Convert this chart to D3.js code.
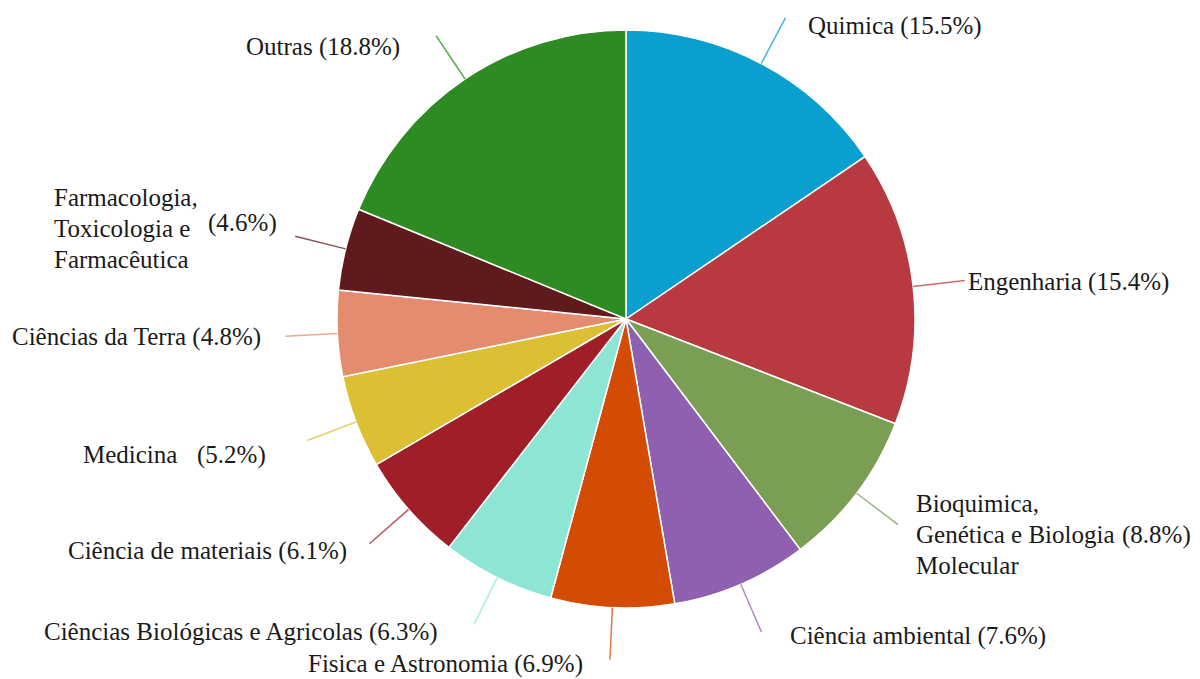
<!DOCTYPE html>
<html>
<head>
<meta charset="utf-8">
<script src="https://cdn.jsdelivr.net/npm/d3@7"></script>
<style>
  html, body { margin: 0; padding: 0; background: #fff; }
</style>
</head>
<body>
<svg id="pie" width="1200" height="679"></svg>
<script>
const width = 1200;
const height = 679;

// data, clockwise from 12 o'clock
const categories = [
    "Quimica", "Engenharia", "Bioquimica, Genética e Biologia Molecular",
    "Ciência ambiental", "Fisica e Astronomia", "Ciências Biológicas e Agricolas",
    "Ciência de materiais", "Medicina", "Ciências da Terra",
    "Farmacologia, Toxicologia e Farmacêutica", "Outras"
];
const shares = [15.5, 15.4, 8.8, 7.6, 6.9, 6.3, 6.1, 5.2, 4.8, 4.6, 18.8];
const colors = [
    "#0a9fcf", "#b83a40", "#7b9e55", "#9060b0", "#d44c04", "#8de6d4",
    "#a01e28", "#dbc034", "#e38c6f", "#5e1a1c", "#2e8a22"
];

// label text lines (percent is added from shares)
const labelLines = [
    ["Quimica"], ["Engenharia"], ["Bioquimica,", "Genética e Biologia", "Molecular"],
    ["Ciência ambiental"], ["Fisica e Astronomia"], ["Ciências Biológicas e Agricolas"],
    ["Ciência de materiais"], ["Medicina"], ["Ciências da Terra"],
    ["Farmacologia,", "Toxicologia e", "Farmacêutica"], ["Outras"]
];

// label placement (layout only)
const labelLayout = [
    { x: 808, y: 34 },
    { x: 968, y: 290 },
    { x: 916, y: 512, lh: 31, px: 1122, py: 543 },
    { x: 790, y: 644 },
    { x: 308, y: 672 },
    { x: 44, y: 640 },
    { x: 68, y: 559 },
    { x: 83, y: 463, px: 197, py: 463 },
    { x: 12, y: 345 },
    { x: 54, y: 206, lh: 31, px: 208, py: 231 },
    { x: 246, y: 55 }
];

const cx = 626, cy = 319, radius = 289;
const fontFamily = "'Liberation Serif', 'Times New Roman', Times, 'DejaVu Serif', serif";

const svg = d3.select("#pie");
const g = svg.append("g").attr("transform", `translate(${cx},${cy})`);

const pie = d3.pie().sort(null).value(d => d.value);
const arcs = pie(categories.map((c, i) => ({ name: c, value: shares[i], i })));

const arc = d3.arc().innerRadius(0).outerRadius(radius);

g.selectAll("path.slice")
    .data(arcs)
    .enter()
    .append("path")
    .attr("class", "slice")
    .attr("d", arc)
    .attr("fill", d => colors[d.data.i])
    .attr("stroke", "#fff")
    .attr("stroke-width", 1.5);

// leader lines from the rim outwards along the slice mid angle
const rimArc = d3.arc().innerRadius(radius).outerRadius(radius);
const outArc = d3.arc().innerRadius(radius * 1.18).outerRadius(radius * 1.18);

g.selectAll("line.leader")
    .data(arcs)
    .enter()
    .append("line")
    .attr("class", "leader")
    .attr("x1", d => rimArc.centroid(d)[0])
    .attr("y1", d => rimArc.centroid(d)[1])
    .attr("x2", d => outArc.centroid(d)[0])
    .attr("y2", d => outArc.centroid(d)[1])
    .attr("stroke", d => colors[d.data.i])
    .attr("stroke-opacity", 0.75)
    .attr("stroke-width", 1.5);

// labels
const labels = svg.append("g")
    .attr("font-family", fontFamily)
    .attr("font-size", 25)
    .attr("fill", "#1a1a1a");

arcs.forEach(d => {
    const i = d.data.i;
    const lay = labelLayout[i];
    const lines = labelLines[i];
    const pct = `(${shares[i].toFixed(1)}%)`;
    const lh = lay.lh || 31;
    lines.forEach((ln, j) => {
        const txt = (lay.px === undefined && j === lines.length - 1) ? `${ln} ${pct}` : ln;
        labels.append("text")
            .attr("x", lay.x)
            .attr("y", lay.y + j * lh)
            .text(txt);
    });
    if (lay.px !== undefined) {
        labels.append("text")
            .attr("x", lay.px)
            .attr("y", lay.py)
            .text(pct);
    }
});
</script>
</body>
</html>
